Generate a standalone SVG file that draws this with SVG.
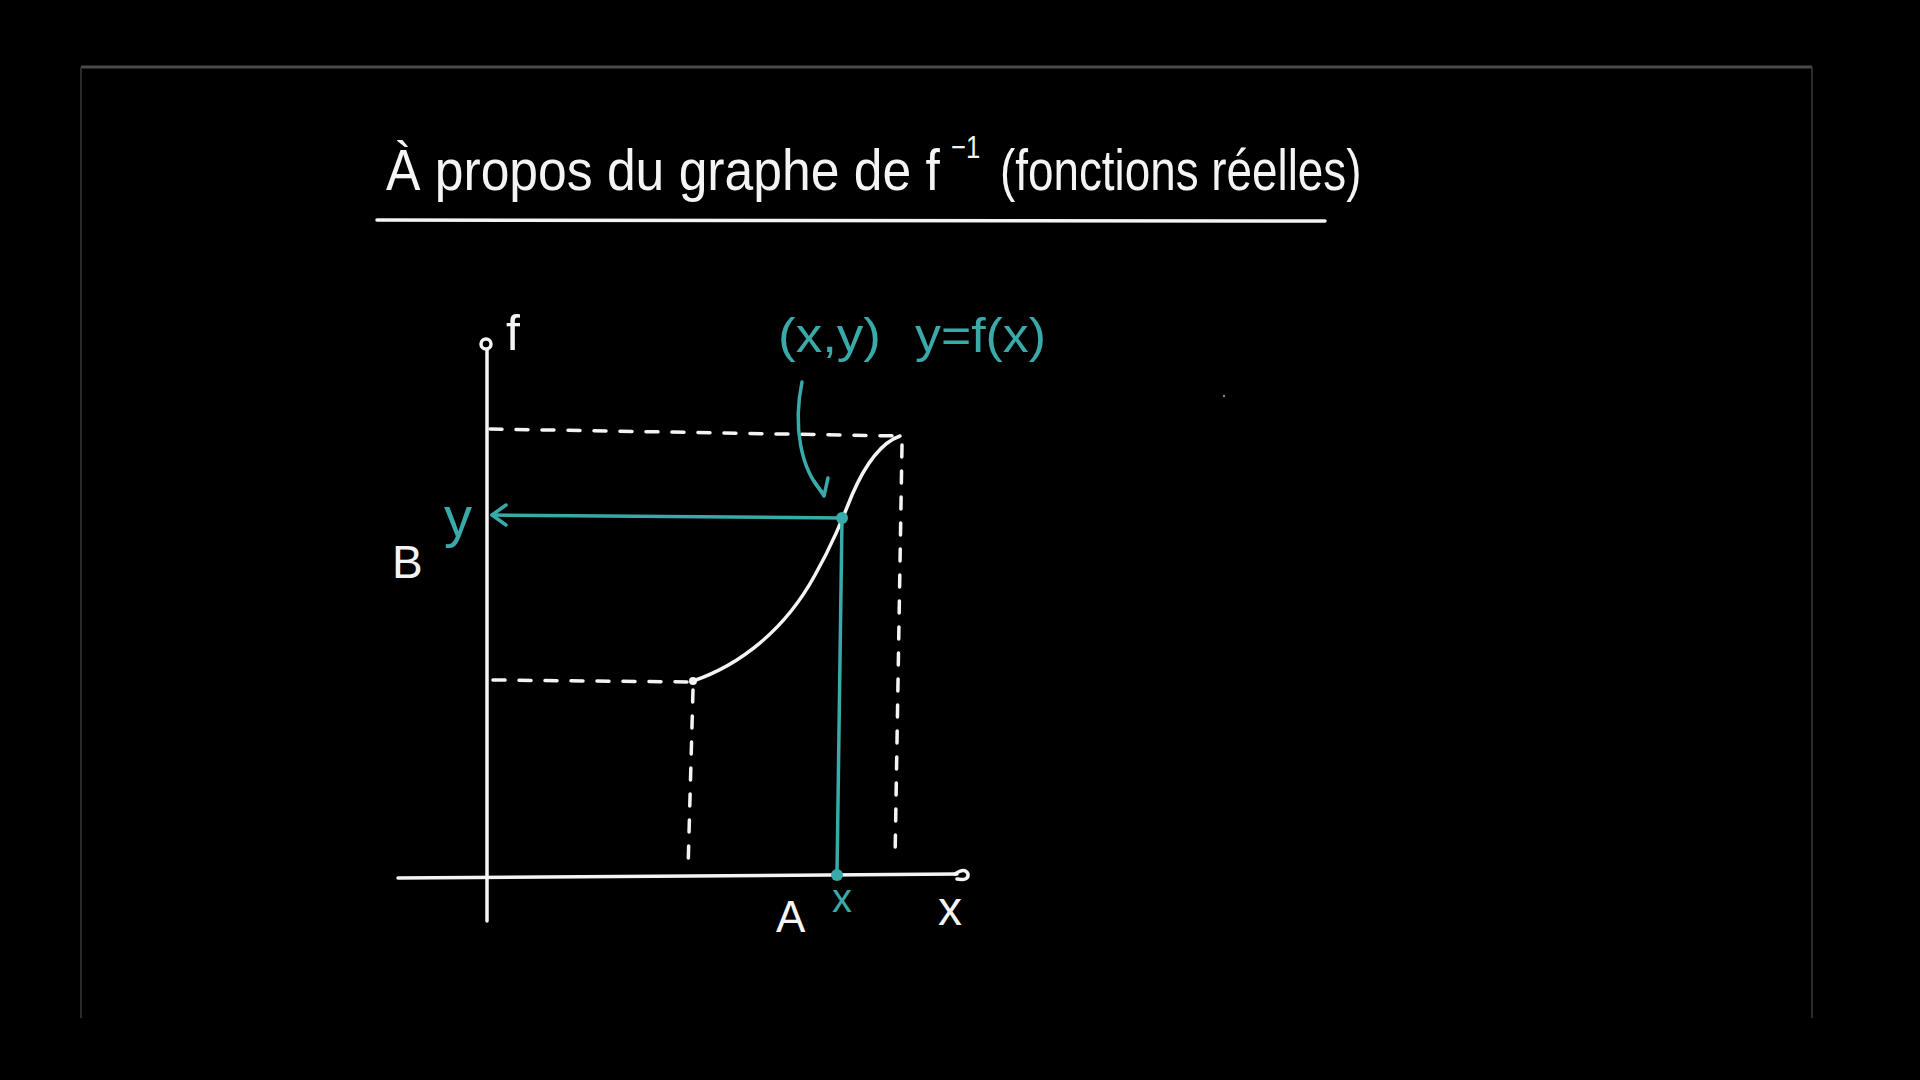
<svg xmlns="http://www.w3.org/2000/svg" width="1920" height="1080" viewBox="0 0 1920 1080">
<style>
.w{stroke:#f4f4f4;fill:none;stroke-width:3.5;stroke-linecap:round;stroke-linejoin:round}
.t{stroke:#3aa9a9;fill:none;stroke-width:3.5;stroke-linecap:round;stroke-linejoin:round}
.d{stroke-dasharray:12 14}
.wt{fill:#f4f4f4;font-family:"Liberation Sans","DejaVu Sans",sans-serif}
.tt{fill:#3aa9a9;font-family:"Liberation Sans","DejaVu Sans",sans-serif}
</style>
<rect x="0" y="0" width="1920" height="1080" fill="#000"/>
<g id="frame">
<line x1="81" y1="67" x2="1812" y2="67" stroke="#4a4a4a" stroke-width="3"/>
<line x1="81" y1="67" x2="81" y2="1018" stroke="#3a3a3a" stroke-width="1.5"/>
<line x1="1812" y1="67" x2="1812" y2="1018" stroke="#3a3a3a" stroke-width="1.5"/>
</g>
<g id="title">
<text class="wt" font-size="58" transform="translate(386 190) scale(0.89 1)">À propos du graphe de f</text>
<text class="wt" font-size="32" transform="translate(951 158) scale(0.8 1)">−1</text>
<text class="wt" font-size="58" transform="translate(1000 190) scale(0.79 1)">(fonctions réelles)</text>
<line class="w" x1="377" y1="220" x2="1325" y2="221"/>
</g>
<g id="axes">
<path class="w" d="M487 921 L487 350"/>
<circle class="w" cx="486" cy="344" r="5" stroke-width="3"/>
<path class="w" d="M398 878 L957 874"/>
<path class="w" d="M955 874 Q965 867 968 874 Q969 881 957 879"/>
<text class="wt" x="506" y="350" font-size="50">f</text>
<text class="wt" x="938" y="925" font-size="48">x</text>
<text class="wt" x="776" y="932" font-size="44">A</text>
<text class="wt" x="392" y="578" font-size="46">B</text>
</g>
<g id="guides">
<path class="w d" d="M490 429 L900 436"/>
<path class="w d" d="M902 445 L895 860"/>
<path class="w d" d="M493 680 L690 682" stroke-dasharray="8 14"/>
<path class="w d" d="M693 690 L688 870"/>
</g>
<g id="curve">
<path class="w" d="M693 681 C740 665 785 630 815 575 C832 545 842 520 852 495 C865 465 880 443 900 436"/>
<circle cx="693" cy="681" r="4" fill="#f4f4f4"/>
<circle cx="1224" cy="396" r="1.2" fill="#888"/>
</g>
<g id="point">
<path class="t" d="M842 518 L492 515"/>
<path class="t" d="M506 505 L492 515 L506 525"/>
<path class="t" d="M842 518 L837 873"/>
<circle cx="842" cy="518" r="6" fill="#3aa9a9"/>
<circle cx="837" cy="875" r="6" fill="#3aa9a9"/>
<path class="t" d="M802 382 C793 425 800 470 824 494"/>
<path class="t" d="M814 481 L824 496 L828 478"/>
<text class="tt" x="444" y="536" font-size="56">y</text>
<text class="tt" x="832" y="912" font-size="40">x</text>
<text class="tt" x="778" y="352" font-size="48" textLength="103" lengthAdjust="spacingAndGlyphs">(x,y)</text>
<text class="tt" x="915" y="352" font-size="48" textLength="131" lengthAdjust="spacingAndGlyphs">y=f(x)</text>
</g>
</svg>
